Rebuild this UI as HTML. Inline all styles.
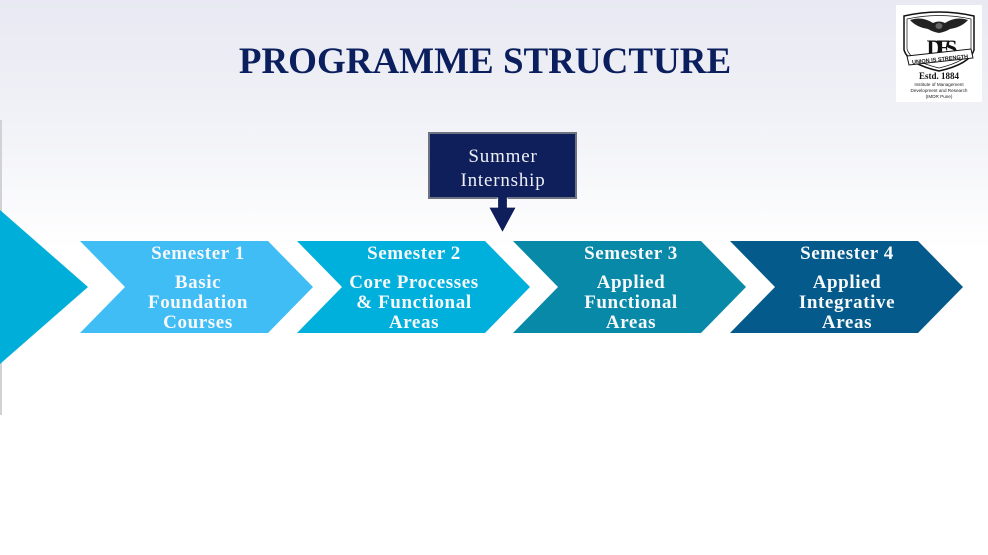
<!DOCTYPE html>
<html>
<head>
<meta charset="utf-8">
<style>
  html,body{margin:0;padding:0;}
  body{width:988px;height:555px;overflow:hidden;background:#fff;}
  svg{display:block;}
</style>
</head>
<body>
<svg width="988" height="555" viewBox="0 0 988 555" xmlns="http://www.w3.org/2000/svg">
  <defs>
    <linearGradient id="bg" x1="0" y1="0" x2="0" y2="1">
      <stop offset="0" stop-color="#E8E9F2"/>
      <stop offset="0.22" stop-color="#F1F2F7"/>
      <stop offset="0.45" stop-color="#FFFFFF"/>
      <stop offset="1" stop-color="#FFFFFF"/>
    </linearGradient>
  </defs>
  <rect x="0" y="0" width="988" height="555" fill="url(#bg)"/>

  <!-- left vertical line -->
  <rect x="0" y="120" width="2" height="295" fill="#D2D2D6"/>

  <!-- title -->
  <text x="485" y="73" text-anchor="middle" font-family="'Liberation Serif', serif" font-weight="bold" font-size="37" fill="#0B1F5E">PROGRAMME STRUCTURE</text>

  <!-- logo -->
  <rect x="896" y="5" width="86" height="97" fill="#FFFFFF"/>
  <g fill="none" stroke="#111" stroke-width="1.5">
    <path d="M904,16 Q939,8 974,16 L974,50 Q970,64 939,71 Q908,64 904,50 Z"/>
    <path d="M907,19 Q939,12 971,19 L971,49 Q968,61 939,68 Q910,61 907,49 Z" stroke-width="0.7"/>
  </g>
  <!-- eagle -->
  <path d="M910,20 Q922,16 933,23 Q939,20 945,23 Q956,16 968,20 Q962,27 950,29 Q945,32 939,33 Q933,32 928,29 Q916,27 910,20 Z" fill="#222"/>
  <ellipse cx="939" cy="26" rx="3.5" ry="3" fill="#666"/>
  <!-- monogram -->
  <text x="939" y="55" text-anchor="middle" font-family="'Liberation Serif', serif" font-weight="bold" font-size="22" fill="#111" letter-spacing="-6">DES</text>
  <!-- banner -->
  <path d="M907,56 L971,49 L973,58 L909,65 Z" fill="#fff" stroke="#111" stroke-width="1"/>
  <text x="940" y="61" text-anchor="middle" font-family="'Liberation Sans', sans-serif" font-weight="bold" font-size="5.5" fill="#111" transform="rotate(-6 940 59)">UNION IS STRENGTH</text>
  <text x="939" y="79" text-anchor="middle" font-family="'Liberation Serif', serif" font-weight="bold" font-size="9" fill="#111">Estd. 1884</text>
  <text x="939" y="86" text-anchor="middle" font-family="'Liberation Sans', sans-serif" font-size="4.6" fill="#222">Institute of Management</text>
  <text x="939" y="92" text-anchor="middle" font-family="'Liberation Sans', sans-serif" font-size="4.6" fill="#222">Development and Research</text>
  <text x="939" y="98" text-anchor="middle" font-family="'Liberation Sans', sans-serif" font-size="4.6" fill="#222">(IMDR Pune)</text>

  <!-- left triangle -->
  <polygon points="0,210 88,287 0,364" fill="#00AFD9"/>

  <!-- chevrons -->
  <polygon points="80,241 268,241 313,287 268,333 80,333 125,287" fill="#41BDF5"/>
  <polygon points="297,241 485,241 530,287 485,333 297,333 342,287" fill="#00B0DC"/>
  <polygon points="513,241 701,241 746,287 701,333 513,333 558,287" fill="#0989A8"/>
  <polygon points="730,241 918,241 963,287 918,333 730,333 775,287" fill="#045B8B"/>

  <!-- chevron text -->
  <g font-family="'Liberation Serif', serif" font-weight="bold" font-size="19" fill="#F6F8FA" text-anchor="middle" letter-spacing="0.6">
    <text x="198" y="259">Semester 1</text>
    <text x="198" y="288">Basic</text>
    <text x="198" y="308">Foundation</text>
    <text x="198" y="328">Courses</text>

    <text x="414" y="259">Semester 2</text>
    <text x="414" y="288">Core Processes</text>
    <text x="414" y="308">&amp; Functional</text>
    <text x="414" y="328">Areas</text>

    <text x="631" y="259">Semester 3</text>
    <text x="631" y="288">Applied</text>
    <text x="631" y="308">Functional</text>
    <text x="631" y="328">Areas</text>

    <text x="847" y="259">Semester 4</text>
    <text x="847" y="288">Applied</text>
    <text x="847" y="308">Integrative</text>
    <text x="847" y="328">Areas</text>
  </g>

  <!-- summer internship box -->
  <rect x="429" y="133" width="147" height="65" fill="#0F1F5B" stroke="#6E7381" stroke-width="2"/>
  <g font-family="'Liberation Serif', serif" font-size="19" fill="#EEF0F6" text-anchor="middle" letter-spacing="0.8">
    <text x="503" y="162">Summer</text>
    <text x="503" y="186">Internship</text>
  </g>
  <!-- arrow -->
  <path d="M497.5,199 L507.5,199 L507.5,207 L516.5,207 L502.5,233 L488.5,207 L497.5,207 Z" fill="#0F1F5B" stroke="#FFFFFF" stroke-width="1.2"/>
  <rect x="498.2" y="196" width="8.6" height="5" fill="#0F1F5B"/>
</svg>
</body>
</html>
